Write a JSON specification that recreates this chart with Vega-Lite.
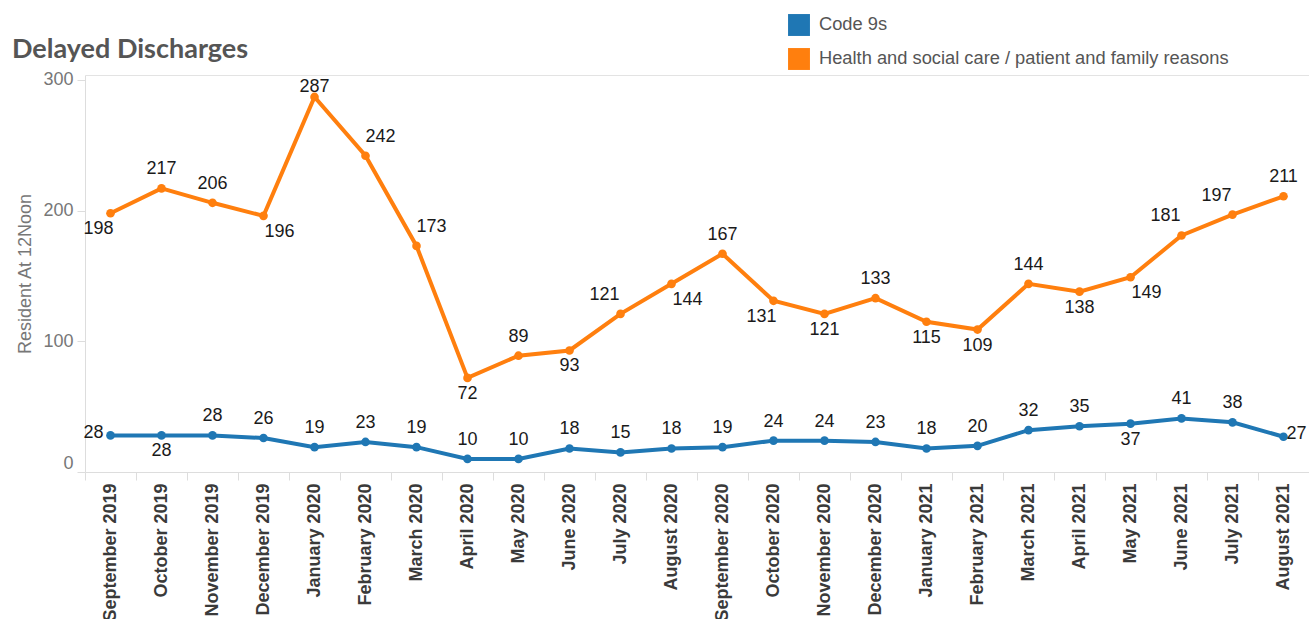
{
  "$schema": "https://vega.github.io/schema/vega-lite/v6.json",
  "width": 1224,
  "height": 397,
  "autosize": {"type": "none"},
  "padding": {"left": 85, "top": 75, "right": 0, "bottom": 147},
  "background": "white",
  "title": {
    "text": "Delayed Discharges",
    "anchor": "start",
    "frame": "group",
    "font": "Lato",
    "fontSize": 27,
    "fontWeight": "bold",
    "color": "#555555",
    "baseline": "alphabetic",
    "offset": 18,
    "dx": -73,
    "dy": 89
  },
  "config": {
    "view": {"stroke": null},
    "font": "Liberation Sans"
  },
  "data": {
    "values": [
      {"month": "September 2019", "series": "Code 9s", "value": 28},
      {"month": "October 2019", "series": "Code 9s", "value": 28},
      {"month": "November 2019", "series": "Code 9s", "value": 28},
      {"month": "December 2019", "series": "Code 9s", "value": 26},
      {"month": "January 2020", "series": "Code 9s", "value": 19},
      {"month": "February 2020", "series": "Code 9s", "value": 23},
      {"month": "March 2020", "series": "Code 9s", "value": 19},
      {"month": "April 2020", "series": "Code 9s", "value": 10},
      {"month": "May 2020", "series": "Code 9s", "value": 10},
      {"month": "June 2020", "series": "Code 9s", "value": 18},
      {"month": "July 2020", "series": "Code 9s", "value": 15},
      {"month": "August 2020", "series": "Code 9s", "value": 18},
      {"month": "September 2020", "series": "Code 9s", "value": 19},
      {"month": "October 2020", "series": "Code 9s", "value": 24},
      {"month": "November 2020", "series": "Code 9s", "value": 24},
      {"month": "December 2020", "series": "Code 9s", "value": 23},
      {"month": "January 2021", "series": "Code 9s", "value": 18},
      {"month": "February 2021", "series": "Code 9s", "value": 20},
      {"month": "March 2021", "series": "Code 9s", "value": 32},
      {"month": "April 2021", "series": "Code 9s", "value": 35},
      {"month": "May 2021", "series": "Code 9s", "value": 37},
      {"month": "June 2021", "series": "Code 9s", "value": 41},
      {"month": "July 2021", "series": "Code 9s", "value": 38},
      {"month": "August 2021", "series": "Code 9s", "value": 27},
      {"month": "September 2019", "series": "Health and social care / patient and family reasons", "value": 198},
      {"month": "October 2019", "series": "Health and social care / patient and family reasons", "value": 217},
      {"month": "November 2019", "series": "Health and social care / patient and family reasons", "value": 206},
      {"month": "December 2019", "series": "Health and social care / patient and family reasons", "value": 196},
      {"month": "January 2020", "series": "Health and social care / patient and family reasons", "value": 287},
      {"month": "February 2020", "series": "Health and social care / patient and family reasons", "value": 242},
      {"month": "March 2020", "series": "Health and social care / patient and family reasons", "value": 173},
      {"month": "April 2020", "series": "Health and social care / patient and family reasons", "value": 72},
      {"month": "May 2020", "series": "Health and social care / patient and family reasons", "value": 89},
      {"month": "June 2020", "series": "Health and social care / patient and family reasons", "value": 93},
      {"month": "July 2020", "series": "Health and social care / patient and family reasons", "value": 121},
      {"month": "August 2020", "series": "Health and social care / patient and family reasons", "value": 144},
      {"month": "September 2020", "series": "Health and social care / patient and family reasons", "value": 167},
      {"month": "October 2020", "series": "Health and social care / patient and family reasons", "value": 131},
      {"month": "November 2020", "series": "Health and social care / patient and family reasons", "value": 121},
      {"month": "December 2020", "series": "Health and social care / patient and family reasons", "value": 133},
      {"month": "January 2021", "series": "Health and social care / patient and family reasons", "value": 115},
      {"month": "February 2021", "series": "Health and social care / patient and family reasons", "value": 109},
      {"month": "March 2021", "series": "Health and social care / patient and family reasons", "value": 144},
      {"month": "April 2021", "series": "Health and social care / patient and family reasons", "value": 138},
      {"month": "May 2021", "series": "Health and social care / patient and family reasons", "value": 149},
      {"month": "June 2021", "series": "Health and social care / patient and family reasons", "value": 181},
      {"month": "July 2021", "series": "Health and social care / patient and family reasons", "value": 197},
      {"month": "August 2021", "series": "Health and social care / patient and family reasons", "value": 211}
    ]
  },
  "encoding": {
    "x": {"field": "month", "type": "ordinal", "sort": null, "scale": {"type": "band", "paddingInner": 0, "paddingOuter": 0}, "axis": null},
    "y": {
      "field": "value",
      "type": "quantitative",
      "scale": {"domain": [0, 303.8], "nice": false, "zero": true},
      "axis": {
        "title": "Resident At 12Noon",
        "titleFont": "Liberation Sans",
        "titleFontSize": 18,
        "titleFontWeight": "normal",
        "titleColor": "#777777",
        "titlePadding": 8,
        "labelFont": "Liberation Sans",
        "labelFontSize": 18,
        "labelColor": "#777777",
        "labelPadding": 4,
        "labelFlush": true,
        "values": [0, 100, 200, 300],
        "grid": false,
        "tickSize": 8,
        "tickColor": "#dddddd",
        "domainColor": "#dddddd"
      }
    }
  },
  "layer": [
    {
      "mark": {"type": "line", "strokeWidth": 4},
      "encoding": {
        "x": {"field": "month", "type": "ordinal", "sort": null, "scale": {"type": "band", "paddingInner": 0, "paddingOuter": 0},
          "axis": {"orient": "bottom", "title": null, "labelAngle": 270, "labelFont": "Liberation Sans", "labelFontSize": 18, "labelFontWeight": "bold", "labelColor": "#3a3a3a", "labelPadding": 3, "tickBand": "extent", "tickSize": 8, "tickColor": "#dddddd", "domainColor": "#dddddd"}},
        "color": {
          "field": "series",
          "type": "nominal",
          "scale": {"domain": ["Code 9s", "Health and social care / patient and family reasons"], "range": ["#1f77b4", "#ff7f0e"]},
          "legend": {
            "orient": "none",
            "legendX": 703,
            "legendY": -61,
            "title": null,
            "symbolType": "square",
            "symbolSize": 480,
            "symbolStrokeWidth": 0,
            "labelFont": "Liberation Sans",
            "labelFontSize": 18.3,
            "labelColor": "#555555",
            "labelOffset": 9,
            "labelLimit": 0,
            "rowPadding": 12,
            "padding": 0
          }
        }
      }
    },
    {
      "mark": {"type": "point", "filled": true, "size": 75, "opacity": 1},
      "encoding": {
        "x": {"field": "month", "type": "ordinal", "sort": null, "scale": {"type": "band", "paddingInner": 0, "paddingOuter": 0},
          "axis": {"orient": "top", "title": null, "labels": false, "ticks": false, "domainColor": "#e3e3e3", "minExtent": 0, "maxExtent": 0}},
        "color": {"field": "series", "type": "nominal"}
      }
    },
    {
      "transform": [{"filter": "!((datum.series == 'Code 9s' && indexof(['September 2019','October 2019','May 2021','August 2021'], datum.month) >= 0) || (datum.series != 'Code 9s' && indexof(['September 2019','December 2019','January 2020','February 2020','March 2020','April 2020','June 2020','July 2020','August 2020','October 2020','November 2020','January 2021','February 2021','April 2021','May 2021','June 2021','July 2021'], datum.month) >= 0))"}],
      "mark": {"type": "text", "baseline": "alphabetic", "align": "center", "dy": -14, "fontSize": 18, "font": "Liberation Sans"},
      "encoding": {"text": {"field": "value"}, "color": {"value": "#1a1a1a"}}
    },
    {
      "transform": [{"filter": "datum.series != 'Code 9s' && datum.month == 'January 2020'"}],
      "mark": {"type": "text", "baseline": "alphabetic", "align": "center", "dy": -5, "fontSize": 18, "font": "Liberation Sans"},
      "encoding": {"text": {"field": "value"}, "color": {"value": "#1a1a1a"}}
    },
    {
      "transform": [{"filter": "(datum.series == 'Code 9s' && indexof(['October 2019','May 2021'], datum.month) >= 0) || (datum.series != 'Code 9s' && indexof(['April 2020','June 2020','November 2020','January 2021','February 2021','April 2021'], datum.month) >= 0)"}],
      "mark": {"type": "text", "baseline": "alphabetic", "align": "center", "dy": 21, "fontSize": 18, "font": "Liberation Sans"},
      "encoding": {"text": {"field": "value"}, "color": {"value": "#1a1a1a"}}
    },
    {
      "transform": [{"filter": "datum.series != 'Code 9s' && indexof(['December 2019','August 2020','May 2021'], datum.month) >= 0"}],
      "mark": {"type": "text", "baseline": "alphabetic", "align": "left", "dx": 1, "dy": 21, "fontSize": 18, "font": "Liberation Sans"},
      "encoding": {"text": {"field": "value"}, "color": {"value": "#1a1a1a"}}
    },
    {
      "transform": [{"filter": "datum.series != 'Code 9s' && indexof(['September 2019','October 2020'], datum.month) >= 0"}],
      "mark": {"type": "text", "baseline": "alphabetic", "align": "right", "dx": 3, "dy": 21, "fontSize": 18, "font": "Liberation Sans"},
      "encoding": {"text": {"field": "value"}, "color": {"value": "#1a1a1a"}}
    },
    {
      "transform": [{"filter": "datum.series != 'Code 9s' && indexof(['February 2020','March 2020'], datum.month) >= 0"}],
      "mark": {"type": "text", "baseline": "alphabetic", "align": "left", "dx": 0, "dy": -14, "fontSize": 18, "font": "Liberation Sans"},
      "encoding": {"text": {"field": "value"}, "color": {"value": "#1a1a1a"}}
    },
    {
      "transform": [{"filter": "datum.series != 'Code 9s' && indexof(['July 2020','June 2021','July 2021'], datum.month) >= 0"}],
      "mark": {"type": "text", "baseline": "alphabetic", "align": "right", "dx": -1, "dy": -14, "fontSize": 18, "font": "Liberation Sans"},
      "encoding": {"text": {"field": "value"}, "color": {"value": "#1a1a1a"}}
    },
    {
      "transform": [{"filter": "datum.series == 'Code 9s' && datum.month == 'September 2019'"}],
      "mark": {"type": "text", "baseline": "middle", "align": "right", "dx": -7, "dy": -2, "fontSize": 18, "font": "Liberation Sans"},
      "encoding": {"text": {"field": "value"}, "color": {"value": "#1a1a1a"}}
    },
    {
      "transform": [{"filter": "datum.series == 'Code 9s' && datum.month == 'August 2021'"}],
      "mark": {"type": "text", "baseline": "middle", "align": "left", "dx": 3, "dy": -3, "fontSize": 18, "font": "Liberation Sans"},
      "encoding": {"text": {"field": "value"}, "color": {"value": "#1a1a1a"}}
    }
  ]
}
